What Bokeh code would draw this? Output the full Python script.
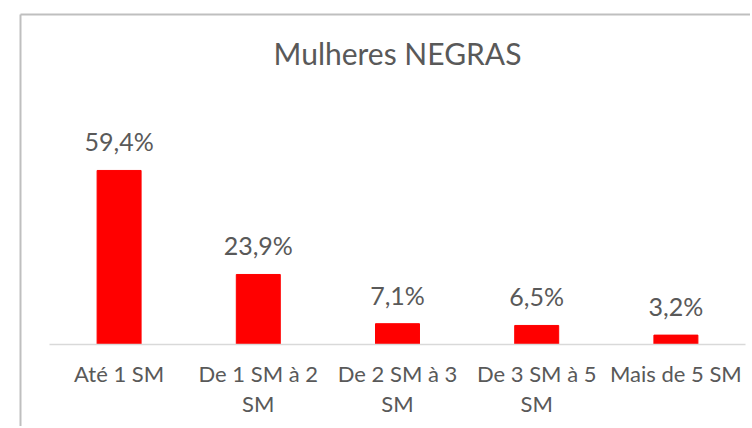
from bokeh.plotting import figure
from bokeh.models import ColumnDataSource, Range1d, LinearAxis, FixedTicker
from bokeh.core.properties import value
from bokeh.embed import file_html
from bokeh.resources import INLINE

title_text = "Mulheres NEGRAS"
categories = ["Até 1 SM", "De 1 SM à 2 SM", "De 2 SM à 3 SM", "De 3 SM à 5 SM", "Mais de 5 SM"]
values = [59.4, 23.9, 7.1, 6.5, 3.2]
value_labels = ["59,4%", "23,9%", "7,1%", "6,5%", "3,2%"]
tick_line1 = ["Até 1 SM", "De 1 SM à 2", "De 2 SM à 3", "De 3 SM à 5", "Mais de 5 SM"]
tick_line2 = ["", "SM", "SM", "SM", ""]

FONT = "Lato"
TEXT = "#595959"
BORDER = "#BFBFBF"
BASELINE = "#D9D9D9"

# layout (pixels)
W, H = 750, 426
FRAME_LEFT, FRAME_TOP = 20, 14          # chart border position
PLOT_LEFT, PLOT_RIGHT = 49, 745          # category band extent
BASE_Y = 344                             # zero line
PX_PER_UNIT_Y = 2.93

n = len(categories)
x_pos = list(range(n))
px_x = (PLOT_RIGHT - PLOT_LEFT) / n
x_start = -0.5 - (PLOT_LEFT - FRAME_LEFT) / px_x
x_end = n - 0.5 + (W - PLOT_RIGHT) / px_x
y_end = (BASE_Y - FRAME_TOP) / PX_PER_UNIT_Y
y_start = -(H - BASE_Y) / PX_PER_UNIT_Y

source = ColumnDataSource(dict(x=x_pos, cat=categories, val=values, lab=value_labels,
                               t1=tick_line1, t2=tick_line2))

p = figure(
    width=W, height=H,
    x_range=Range1d(x_start, x_end), y_range=Range1d(y_start, y_end),
    output_backend="svg", toolbar_location=None,
    min_border_left=FRAME_LEFT, min_border_right=0, min_border_bottom=0, min_border_top=FRAME_TOP,
    x_axis_location=None, y_axis_location=None,
)
p.xgrid.visible = False
p.ygrid.visible = False
p.outline_line_color = None
p.background_fill_color = "white"
p.border_fill_color = "white"

# chart border (left and top edges)
for side in ("left", "above"):
    p.add_layout(LinearAxis(
        ticker=FixedTicker(ticks=[]),
        axis_line_color=BORDER, axis_line_width=2,
        major_tick_line_color=None, minor_tick_line_color=None,
        major_tick_out=0, minor_tick_out=0, major_tick_in=0, minor_tick_in=0,
        major_label_standoff=0, major_label_text_font_size="0px",
    ), side)

# title
p.text(x=[(n - 1) / 2], y=[y_end], text=[title_text],
       text_align="center", text_baseline="alphabetic", y_offset=38,
       text_font=value(FONT), text_font_size="30px", text_color=TEXT)

# bars
p.vbar(x="x", top="val", width=0.316, source=source,
       fill_color="#FF0000", line_color="#FF0000")

# baseline
p.segment(x0=[-0.5], x1=[n - 0.5], y0=[0], y1=[0], line_color=BASELINE, line_width=1.5)

# value labels
p.text(x="x", y="val", text="lab", source=source,
       text_align="center", text_baseline="alphabetic", y_offset=-29,
       text_font=value(FONT), text_font_size="25px", text_color=TEXT)

# category labels (two lines)
for col, off in (("t1", 29), ("t2", 59)):
    p.text(x="x", y=0, text=col, source=source,
           text_align="center", text_baseline="alphabetic", y_offset=off,
           text_font=value(FONT), text_font_size="22px", text_color=TEXT)

open("out.html", "w").write(file_html(p, INLINE))
